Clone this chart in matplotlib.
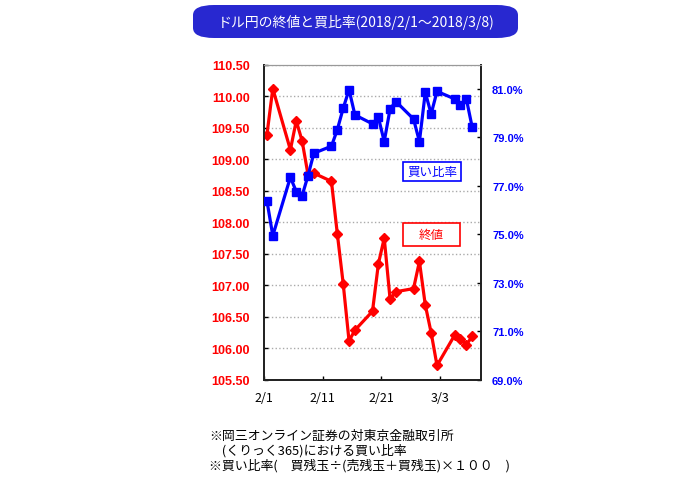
import numpy as np
import pandas as pd
import matplotlib
matplotlib.use("Agg")
import matplotlib.pyplot as plt
from matplotlib.patches import FancyBboxPatch, Rectangle

plt.rcParams['font.family'] = ['Noto Sans CJK JP', 'DejaVu Sans']

# data
dates = ["2018-02-01", "2018-02-02", "2018-02-05", "2018-02-06", "2018-02-07",
         "2018-02-08", "2018-02-09", "2018-02-12", "2018-02-13", "2018-02-14",
         "2018-02-15", "2018-02-16", "2018-02-19", "2018-02-20", "2018-02-21",
         "2018-02-22", "2018-02-23", "2018-02-26", "2018-02-27", "2018-02-28",
         "2018-03-01", "2018-03-02", "2018-03-05", "2018-03-06", "2018-03-07",
         "2018-03-08"]
close = [109.39, 110.12, 109.15, 109.61, 109.29,
         108.76, 108.78, 108.65, 107.82, 107.03,
         106.12, 106.29, 106.59, 107.34, 107.75,
         106.78, 106.90, 106.95, 107.38, 106.69,
         106.25, 105.73, 106.21, 106.15, 106.06,
         106.19]
buy_ratio = [76.39, 74.95, 77.36, 76.77, 76.60,
             77.42, 78.35, 78.64, 79.32, 80.20,
             80.97, 79.93, 79.56, 79.83, 78.83,
             80.18, 80.48, 79.76, 78.83, 80.86,
             79.97, 80.90, 80.59, 80.34, 80.59,
             79.42]
xtick_days = [0, 10, 20, 30]
xtick_labels = ["2/1", "2/11", "2/21", "3/3"]
left_ticks = np.arange(105.5, 110.51, 0.5)
right_ticks = np.arange(69, 81.1, 2)

start = pd.Timestamp("2018-02-01")
x = (pd.to_datetime(dates) - start).days.values + 0.5   # points sit mid-day

fig = plt.figure(figsize=(7, 4.85), dpi=100)
ax = fig.add_axes([264/700, 1-381/485, 217/700, 315.3/485])
ax2 = ax.twinx()

red = "#ff0000"
blue = "#0000ff"

ax.plot(x, close, color=red, lw=2.3, marker="D", ms=5.5, zorder=3)
ax2.plot(x, buy_ratio, color=blue, lw=2.3, marker="s", ms=6.3, zorder=3)

ax.set_xlim(0, 37)
ax.set_ylim(105.5, 110.5)
ax2.set_ylim(69, 82)

ax.set_yticks(left_ticks)
ax.set_yticklabels(["%.2f" % v for v in left_ticks], color=red, fontweight="bold",
                   family="Liberation Sans", fontsize=9)
ax2.set_yticks(right_ticks)
ax2.set_yticklabels(["%.1f%%" % v for v in right_ticks], color=blue, fontweight="bold",
                    family="Liberation Sans", fontsize=8)
ax.set_xticks(xtick_days)
ax.set_xticklabels(xtick_labels, fontsize=9)

ax.tick_params(axis="y", direction="in", length=3, width=1, pad=10)
ax2.tick_params(axis="y", direction="in", length=3, width=1, pad=8)
ax.tick_params(axis="x", direction="in", length=3, width=1, pad=8)

ax.grid(axis="y", color="#aaaaaa", linestyle=":", linewidth=1)
for a in (ax, ax2):
    a.spines["top"].set_color("#999999")
    for s in ("left", "right", "bottom"):
        a.spines[s].set_color("#222222")
        a.spines[s].set_linewidth(1.3)

# label boxes inside plot
def label_box(x0, y0, w, h, txt, col):
    fig.patches.append(Rectangle((x0/700, 1-(y0+h)/485), w/700, h/485,
                                 transform=fig.transFigure, facecolor="white",
                                 edgecolor=col, lw=1.2, zorder=5))
    fig.text((x0+w/2)/700, 1-(y0+h/2)/485, txt, color=col, fontsize=9,
             ha="center", va="center", zorder=6)

label_box(403, 163, 58, 19, "買い比率", blue)
label_box(403, 224, 57, 23, "終値", red)

# title
fig.patches.append(FancyBboxPatch((193/700, 1-39/485), 325/700, 33/485,
                                  boxstyle="round,pad=0,rounding_size=0.03",
                                  transform=fig.transFigure, facecolor="#2828d0",
                                  edgecolor="none", mutation_aspect=485/700))
fig.text(356/700, 1-22/485, "ドル円の終値と買比率(2018/2/1～2018/3/8)", color="white",
         fontsize=10, ha="center", va="center")

# notes
notes = ["※岡三オンライン証券の対東京金融取引所",
         "　(くりっく365)における買い比率",
         "※買い比率(　買残玉÷(売残玉＋買残玉)×１００　)"]
for i, line in enumerate(notes):
    fig.text(209/700, 1-(436 + i*15)/485, line, fontsize=9.3, ha="left", va="center")

fig.savefig("out.png", dpi=100)
